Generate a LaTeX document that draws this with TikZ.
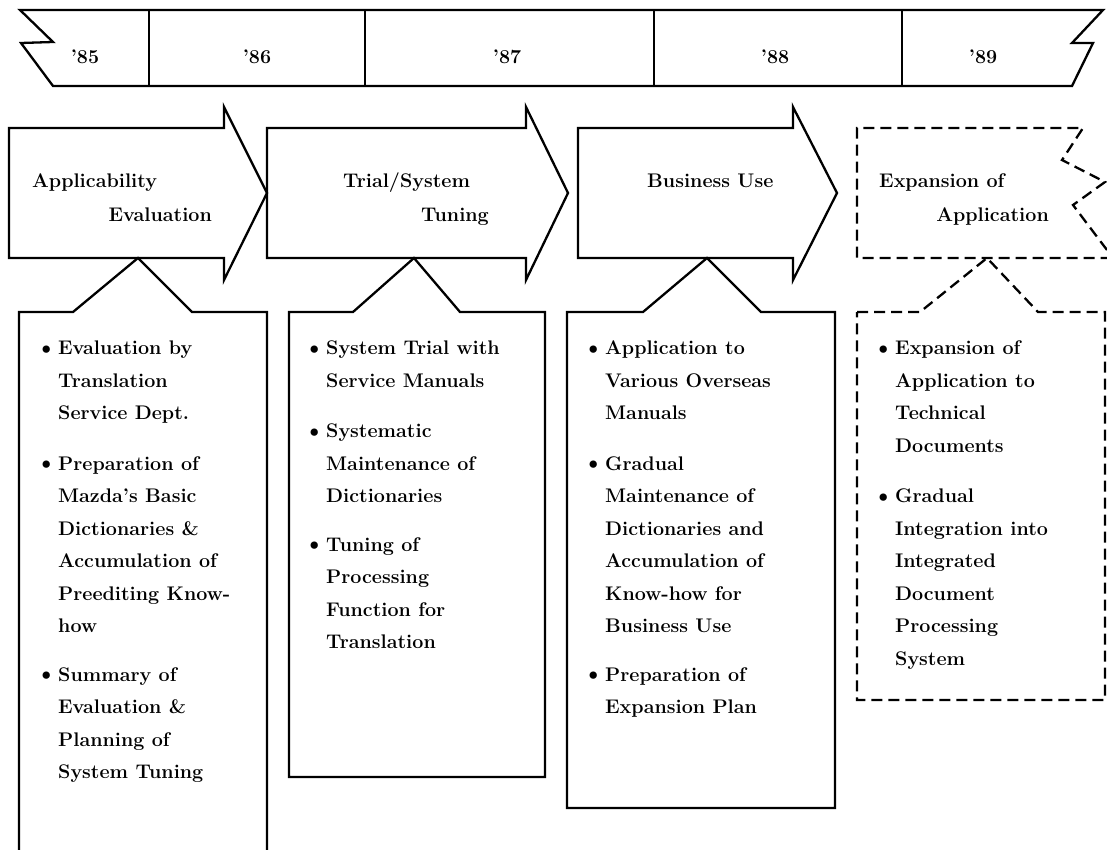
\documentclass[tikz,border=0pt]{standalone}
\usepackage{tikz}
\tikzset{
  trait/.style={line width=2.3pt, line join=miter},
  pointille/.style={trait, dash pattern=on 11pt off 6pt},
  gras/.style={font=\fontsize{19.7}{24}\selectfont\bfseries, inner sep=0pt},
  liste/.style={font=\fontsize{19.7}{32.5}\selectfont\bfseries, align=left, anchor=north west, inner sep=0pt},
}
\newcommand{\puce}{\llap{\raisebox{-0.5pt}{\fontsize{25}{25}\selectfont\textbullet}\hspace{1pt}}}
\begin{document}
\begin{tikzpicture}[x=1pt,y=-1pt]
%					Cadre :
					\fill[white] (0,0) rectangle (1107,850);
					\useasboundingbox (0,0) rectangle (1107,850);
%					Tracé de la frise des années :
					\draw[trait] (20,10) -- (1103,10) -- (1072,43) -- (1093,43) -- (1072,86) -- (53,86) -- (21,43) -- (53,42) -- cycle;
					\foreach \x in {149,365,654,902}
						\draw[trait] (\x,10) -- (\x,86);
					\node[gras] (a85) at (85,57) {'85};
					\node[gras] (a86) at (257,57) {'86};
					\node[gras] (a87) at (507,57) {'87};
					\node[gras] (a88) at (775,57) {'88};
					\node[gras] (a89) at (983,57) {'89};
%					Tracé des flèches :
					\draw[trait] (9,128) -- (224,128) -- (224,107) -- (267,193) -- (224,280) -- (224,258) -- (9,258) -- cycle;
					\draw[trait] (267,128) -- (526,128) -- (526,107) -- (568,193) -- (526,280) -- (526,258) -- (267,258) -- cycle;
					\draw[trait] (578,128) -- (793,128) -- (793,107) -- (837,193) -- (793,280) -- (793,258) -- (578,258) -- cycle;
					\draw[pointille] (1107,250) -- (1073,205) -- (1105,182) -- (1062,160) -- (1083,128) -- (857,128) -- (857,258) -- (1107,258);
					\node[gras, anchor=base west] (t1a) at (32,188) {Applicability};
					\node[gras, anchor=base east] (t1b) at (212,222) {Evaluation};
					\node[gras, anchor=base west] (t2a) at (343,188) {Trial/System};
					\node[gras, anchor=base east] (t2b) at (489,222) {Tuning};
					\node[gras, anchor=base west] (t3a) at (647,188) {Business Use};
					\node[gras, anchor=base west] (t4a) at (879,188) {Expansion of};
					\node[gras, anchor=base east] (t4b) at (1049,222) {Application};
%					Tracé des cadres :
					\draw[trait] (19,852) -- (19,312) -- (73,312) -- (138,258) -- (192,312) -- (267,312) -- (267,852);
					\draw[trait] (289,312) -- (353,312) -- (414,258) -- (460,312) -- (545,312) -- (545,777) -- (289,777) -- cycle;
					\draw[trait] (567,312) -- (643,312) -- (707,258) -- (761,312) -- (835,312) -- (835,808) -- (567,808) -- cycle;
					\draw[pointille] (857,312) -- (920,312) -- (987,258) -- (1038,312) -- (1105,312) -- (1105,700) -- (857,700) -- cycle;
%					Textes des cadres :
					\node[liste] (l1) at (58,341) {\puce Evaluation by\\ Translation\\ Service Dept.\\[18pt]
						\puce Preparation of\\ Mazda's Basic\\ Dictionaries \&\\ Accumulation of\\ Preediting Know-\\ how\\[16pt]
						\puce Summary of\\ Evaluation \&\\ Planning of\\ System Tuning};
					\node[liste] (l2) at (326,341) {\puce System Trial with\\ Service Manuals\\[18pt]
						\puce Systematic\\ Maintenance of\\ Dictionaries\\[16pt]
						\puce Tuning of\\ Processing\\ Function for\\ Translation};
					\node[liste] (l3) at (605,341) {\puce Application to\\ Various Overseas\\ Manuals\\[18pt]
						\puce Gradual\\ Maintenance of\\ Dictionaries and\\ Accumulation of\\ Know-how for\\ Business Use\\[16pt]
						\puce Preparation of\\ Expansion Plan};
					\node[liste] (l4) at (895,341) {\puce Expansion of\\ Application to\\ Technical\\ Documents\\[18pt]
						\puce Gradual\\ Integration into\\ Integrated\\ Document\\ Processing\\ System};
				\end{tikzpicture}
\end{document}
